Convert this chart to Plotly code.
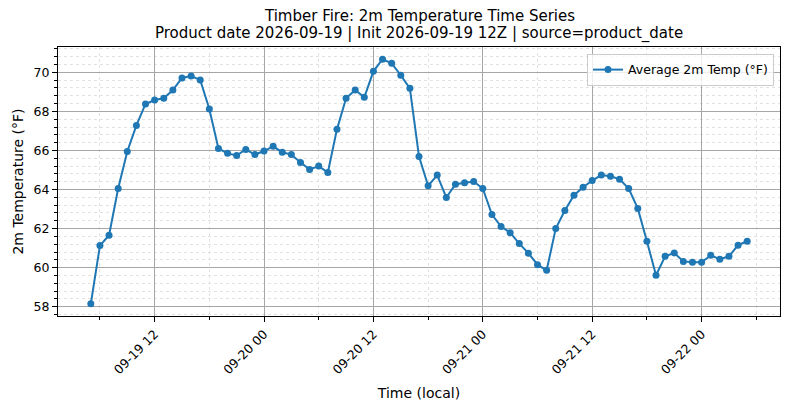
import pandas as pd
import plotly.graph_objects as go

# hourly series, local time
start_time = "2026-09-19 05:00"
n_hours = 73
times = pd.date_range(start_time, periods=n_hours, freq="h")

temp_f = [
    58.15, 61.13, 61.66, 64.05, 65.95, 67.28, 68.38, 68.58, 68.67, 69.09,
    69.71, 69.81, 69.61, 68.12, 66.10, 65.85, 65.74, 66.05, 65.79, 65.97,
    66.21, 65.91, 65.79, 65.38, 65.03, 65.20, 64.87, 67.08, 68.67, 69.09,
    68.72, 70.05, 70.67, 70.46, 69.85, 69.18, 65.69, 64.19, 64.74, 63.59,
    64.27, 64.34, 64.41, 64.05, 62.72, 62.10, 61.79, 61.23, 60.74, 60.15,
    59.86, 62.00, 62.92, 63.71, 64.12, 64.46, 64.74, 64.68, 64.53, 64.05,
    63.03, 61.35, 59.61, 60.58, 60.75, 60.32, 60.27, 60.27, 60.63, 60.43,
    60.58, 61.15, 61.35,
]

y_ticks = [58, 60, 62, 64, 66, 68, 70]

title_line1 = "Timber Fire: 2m Temperature Time Series"
title_line2 = "Product date 2026-09-19 | Init 2026-09-19 12Z | source=product_date"

# matplotlib-like 5% padding
span = times[-1] - times[0]
x_range = [times[0] - span * 0.05, times[-1] + span * 0.05]
ypad = (max(temp_f) - min(temp_f)) * 0.05
y_range = [min(temp_f) - ypad, max(temp_f) + ypad]

HOUR = 3600 * 1000
font = "DejaVu Sans"

fig = go.Figure()
fig.add_trace(go.Scatter(x=times, y=temp_f, mode="lines+markers",
                         name="Average 2m Temp (°F)",
                         line=dict(color="#1f77b4", width=2),
                         marker=dict(color="#1f77b4", size=7)))

# page body has an 8px margin, so the figure is a bit smaller than the window
fig.update_layout(
    width=773, height=393,
    margin=dict(l=50, r=1, t=39, b=85),
    paper_bgcolor="white", plot_bgcolor="white",
    font=dict(family=font, size=12.5, color="black"),
    showlegend=True,
    legend=dict(x=0.9917, xanchor="right", y=0.974, yanchor="top",
                bgcolor="rgba(255,255,255,0.8)", bordercolor="#cccccc",
                borderwidth=1, font=dict(size=12.5), itemwidth=30),
)

# two-line title, one annotation per line
fig.add_annotation(text=title_line1, xref="paper", yref="paper", x=0.5, y=1,
                   yshift=31.5, xanchor="center", yanchor="middle",
                   showarrow=False, borderpad=0,
                   font=dict(size=15, color="black"))
fig.add_annotation(text=title_line2, xref="paper", yref="paper", x=0.5, y=1,
                   yshift=14, xanchor="center", yanchor="middle",
                   showarrow=False, borderpad=0,
                   font=dict(size=15, color="black"))

fig.update_xaxes(
    range=x_range, type="date", automargin=False,
    tick0="2026-09-19 00:00", dtick=12 * HOUR, tickformat="%m-%d %H",
    tickangle=-45, ticks="outside", ticklen=5, tickcolor="black",
    showline=True, linecolor="black", linewidth=1, mirror=True,
    showgrid=True, gridcolor="#a6a6a6", gridwidth=1,
    zeroline=False,
    minor=dict(tick0="2026-09-19 00:00", dtick=6 * HOUR, ticks="outside",
               ticklen=3, tickcolor="black", showgrid=True,
               gridcolor="#e2e2e2", griddash="dot", gridwidth=1),
    title=dict(text="Time (local)", font=dict(size=14), standoff=12),
)

fig.update_yaxes(
    range=y_range, tickvals=y_ticks, automargin=False,
    ticks="outside", ticklen=5, tickcolor="black",
    showline=True, linecolor="black", linewidth=1, mirror=True,
    showgrid=True, gridcolor="#a6a6a6", gridwidth=1,
    zeroline=False,
    minor=dict(tick0=58, dtick=0.4, ticks="outside", ticklen=3,
               tickcolor="black", showgrid=True,
               gridcolor="#e2e2e2", griddash="dot", gridwidth=1),
    title=dict(text="2m Temperature (°F)", font=dict(size=14), standoff=6),
)

fig.write_html("out.html")
